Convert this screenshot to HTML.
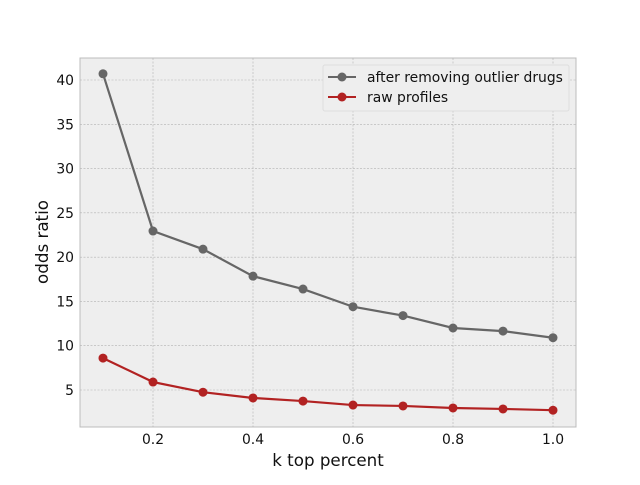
<!DOCTYPE html>
<html><head><meta charset="utf-8"><style>
body{margin:0;background:#fff;}
svg text{font-family:"DejaVu Sans","Liberation Sans",sans-serif;}
</style></head><body>
<svg id="chart" width="640" height="480">
<rect x="80" y="58" width="496" height="369" fill="#eeeeee" stroke="#bcbcbc"/>
<g id="grid"></g><g id="ticks"></g><g id="series"></g>
<text x="328" y="466" text-anchor="middle" font-size="16.7" fill="#111">k top percent</text>
<text transform="translate(48,242) rotate(-90)" text-anchor="middle" font-size="16.7" fill="#111">odds ratio</text>
<g>
<rect x="323" y="65" width="246" height="46" fill="#eeeeee" stroke="#ddd" rx="2"/>
<g>
<line x1="328" y1="77" x2="356" y2="77" stroke="#666666" stroke-width="2"/><circle cx="342" cy="77" r="4.5" fill="#666666"/>
<text x="367" y="82" font-size="13.9" fill="#111">after removing outlier drugs</text></g>
<g>
<line x1="328" y1="97" x2="356" y2="97" stroke="#b22222" stroke-width="2"/><circle cx="342" cy="97" r="4.5" fill="#b22222"/>
<text x="367" y="102" font-size="13.9" fill="#111">raw profiles</text></g>
</g>
</svg>
<script>
const kValues=[0.1,0.2,0.3,0.4,0.5,0.6,0.7,0.8,0.9,1.0];
const afterRemoving=[40.7,22.95,20.9,17.85,16.4,14.4,13.4,12.0,11.65,10.9];
const rawProfiles=[8.6,5.9,4.75,4.1,3.75,3.3,3.2,2.97,2.86,2.72];
const xTicks=[0.2,0.4,0.6,0.8,1.0];
const yTicks=[5,10,15,20,25,30,35,40];
const NS="http://www.w3.org/2000/svg";
function xs(v){return 153+(v-0.2)*500;}
function ys(v){return 80+(40-v)*(310/35);}
function mk(t,a,p){const e=document.createElementNS(NS,t);for(const k in a)e.setAttribute(k,a[k]);p.appendChild(e);return e;}
const grid=document.getElementById('grid'),ticks=document.getElementById('ticks'),ser=document.getElementById('series');
xTicks.forEach(v=>{
 const g=mk('line',{x1:xs(v),x2:xs(v),y1:58,y2:427,stroke:'#b2b2b2','stroke-width':0.6,'stroke-dasharray':'2,1.5'},grid);
 
 
 const t=mk('text',{x:xs(v),y:444,'text-anchor':'middle','font-size':13.9,fill:'#111'},ticks);
 t.textContent=v.toFixed(1);
 
 
});
yTicks.forEach(v=>{
 const g=mk('line',{x1:80,x2:576,y1:ys(v),y2:ys(v),stroke:'#b2b2b2','stroke-width':0.6,'stroke-dasharray':'2,1.5'},grid);
 
 
 const t=mk('text',{x:74,y:ys(v)+5,'text-anchor':'end','font-size':13.9,fill:'#111'},ticks);
 t.textContent=v;
 
 
});
function drawSeries(vals,color,name){
 const g=mk('g',{},ser);
 
 
 const pl=mk('polyline',{points:vals.map((v,i)=>xs(kValues[i])+','+ys(v)).join(' '),fill:'none',stroke:color,'stroke-width':2.2},g);
 
 
 vals.forEach((v,i)=>{
  const c=mk('circle',{cx:xs(kValues[i]),cy:ys(v),r:4.5,fill:color},g);
  
  
 });
}
drawSeries(afterRemoving,'#666666','after-removing-series');
drawSeries(rawProfiles,'#b22222','raw-profiles-series');
</script>
</body></html>
